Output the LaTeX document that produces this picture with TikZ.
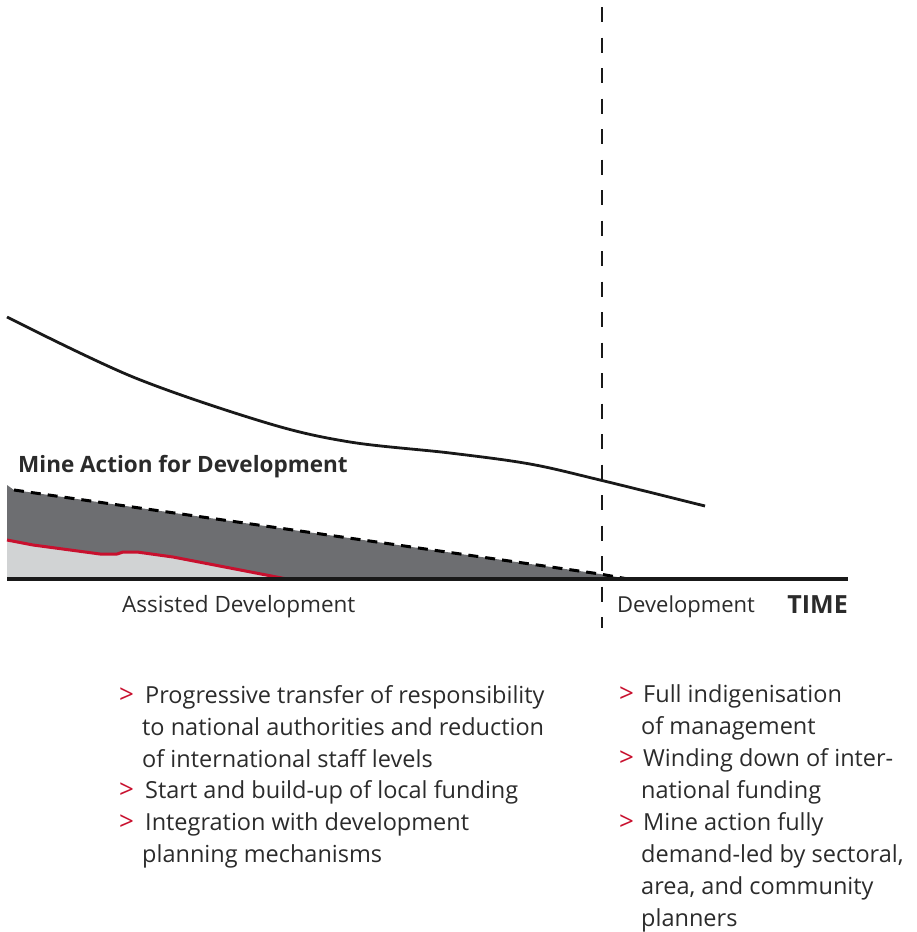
\documentclass[tikz,border=0pt]{standalone}
\usepackage{fontspec}
\setmainfont{Open Sans}
\definecolor{darkfill}{HTML}{6D6E71}
\definecolor{lightfill}{HTML}{D1D3D4}
\definecolor{redline}{HTML}{C8102E}
\definecolor{txt}{HTML}{2B2B2B}
\tikzset{
  bul/.style={anchor=base west, inner sep=0pt, text=txt, font=\fontsize{23.5}{27}\selectfont},
  gt/.style={anchor=base west, inner sep=0pt, text=redline, font=\fontsize{26}{30}\selectfont},
  lbl/.style={anchor=base west, inner sep=0pt, text=txt, font=\fontsize{22.5}{26}\selectfont},
  curveline/.style={line width=2.8pt, black!90},
  axisline/.style={line width=4pt, black!90},
}
\begin{document}
\begin{tikzpicture}[x=1pt,y=-1pt]
\useasboundingbox (0,0) rectangle (917,932);
% dark area
\fill[darkfill] (7,485) .. controls (10,488) .. (14,490) -- (600,574) -- (628,579) -- (7,579) -- cycle;
% light area
\fill[lightfill] (7,540) -- (33,545) -- (100,554) -- (117,554) -- (123,552) -- (137,552) -- (173,557) -- (287,579) -- (7,579) -- cycle;
\draw[redline, line width=3pt, line join=round] (7,540) -- (33,545) -- (100,554) -- (117,554) -- (123,552) -- (137,552) -- (173,557) -- (287,579);
% dashed top of dark area
\draw[line width=3pt, dash pattern=on 10pt off 7pt] (14,490) -- (600,574) -- (628,579);
% axis
\draw[axisline] (7,579) -- (848,579);
% vertical dashed divider
\draw[line width=2.5pt, black!90, dash pattern=on 15pt off 15.5pt] (602,7) -- (602,628);
% curve
\draw[curveline] plot[smooth, tension=0.55] coordinates {(7,317) (133,377) (267,423) (350,442) (450,453) (530,464) (600,480) (705,506)};
% labels
\node[lbl, font=\fontsize{22.5}{26}\selectfont\bfseries] (mad) at (18,472) {Mine Action for Development};
\node[lbl] (ad) at (122,612) {Assisted Development};
\node[lbl, font=\fontsize{22}{26}\selectfont] (dev) at (617,612) {Development};
\node[lbl, font=\fontsize{25}{28}\selectfont\bfseries, anchor=base east] (time) at (848,613) {TIME};
% left bullets
\node[gt] (g1) at (119,703) {>};
\node[bul] (l1) at (145,703) {Progressive transfer of responsibility};
\node[bul] (l2) at (142,735) {to national authorities and reduction};
\node[bul] (l3) at (142,767) {of international staff levels};
\node[gt] (g2) at (119,798) {>};
\node[bul] (l4) at (145,798) {Start and build-up of local funding};
\node[gt] (g3) at (119,830) {>};
\node[bul] (l5) at (145,830) {Integration with development};
\node[bul] (l6) at (142,862) {planning mechanisms};
% right bullets
\node[gt] (h1) at (619,702) {>};
\node[bul] (r1) at (643,702) {Full indigenisation};
\node[bul] (r2) at (641,734) {of management};
\node[gt] (h2) at (619,766) {>};
\node[bul] (r3) at (643,766) {Winding down of inter-};
\node[bul] (r4) at (641,798) {national funding};
\node[gt] (h3) at (619,830) {>};
\node[bul] (r5) at (643,830) {Mine action fully};
\node[bul] (r6) at (641,862) {demand-led by sectoral,};
\node[bul] (r7) at (641,894) {area, and community};
\node[bul] (r8) at (641,926) {planners};
\end{tikzpicture}
\end{document}
